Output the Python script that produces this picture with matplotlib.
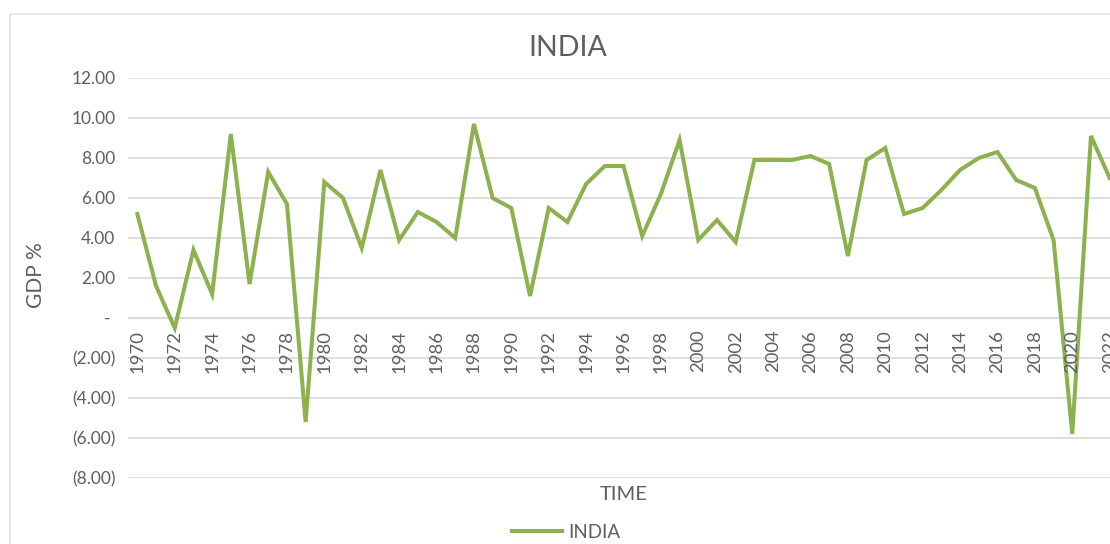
import matplotlib
matplotlib.use("Agg")
import matplotlib.pyplot as plt
from matplotlib.patches import Rectangle
from matplotlib.ticker import FuncFormatter

# Annual GDP growth of India (%)
years = list(range(1970, 2023))
gdp_growth = [
    5.2, 1.6, -0.5, 3.4, 1.2, 9.2, 1.7, 7.3, 5.7, -5.2,
    6.8, 6.0, 3.5, 7.4, 3.9, 5.3, 4.8, 4.0, 9.7, 6.0,
    5.5, 1.1, 5.5, 4.8, 6.7, 7.6, 7.6, 4.1, 6.2, 8.9,
    3.9, 4.9, 3.8, 7.9, 7.9, 7.9, 8.1, 7.7, 3.1, 7.9,
    8.5, 5.2, 5.5, 6.4, 7.4, 8.0, 8.3, 6.9, 6.5, 3.9,
    -5.8, 9.1, 7.0,
]
series_name = "INDIA"
y_ticks = [12, 10, 8, 6, 4, 2, 0, -2, -4, -6, -8]
x_tick_years = list(range(1970, 2023, 2))

TEXT = "#5f5f5f"
GRID = "#d9d9d9"
LINE = "#8db14f"
FONT = ["Lato", "DejaVu Sans"]

plt.rcParams["font.family"] = FONT

fig = plt.figure(figsize=(11.10, 5.44), dpi=100)
W, H = 1110, 544

# outer chart border
fig.patches.append(Rectangle((10 / W, -0.1), 1.2, 1 - 14 / H + 0.1,
                             transform=fig.transFigure, fill=False,
                             edgecolor="#e3e3e3", linewidth=1.2))

# plot area: runs past the right edge of the canvas
left, right, top, bottom = 128, 1119, 78, 478
ax = fig.add_axes([left / W, 1 - bottom / H, (right - left) / W, (bottom - top) / H])

ax.plot(years, gdp_growth, color=LINE, linewidth=2.9, solid_joinstyle="miter",
        label=series_name, zorder=3)

ax.set_xlim(1969.5, 2022.5)
ax.set_ylim(-8, 12)
ax.set_yticks(y_ticks)


def fmt(v, _pos):
    if abs(v) < 1e-9:
        return "- "
    if v < 0:
        return f"({abs(v):.2f})"
    return f"{v:.2f}"


ax.yaxis.set_major_formatter(FuncFormatter(fmt))
ax.grid(axis="y", color=GRID, linewidth=1.2, zorder=0)
ax.tick_params(axis="y", length=0, pad=9, labelsize=12.5, labelcolor=TEXT)

# hide the x axis ticks; year labels sit just under the zero line
ax.set_xticks([])
ax.axhline(0, color=GRID, linewidth=1.2, zorder=1)
for yr in x_tick_years:
    ax.annotate(str(yr), xy=(yr, 0), xycoords="data",
                xytext=(0, -8.5), textcoords="offset points",
                rotation=90, ha="center", va="top", fontsize=13.3,
                color=TEXT, annotation_clip=False)

for s in ax.spines.values():
    s.set_visible(False)

fig.text(568 / W, 1 - 48 / H, "INDIA", ha="center", va="center",
         fontsize=20.5, color=TEXT)
fig.text(36 / W, 1 - 275 / H, "GDP %", ha="center", va="center",
         rotation=90, fontsize=15, color=TEXT)
fig.text(624 / W, 1 - 495 / H, "TIME", ha="center", va="center",
         fontsize=14.5, color=TEXT)

leg = fig.legend(loc="center", bbox_to_anchor=(566 / W, 1 - 532 / H),
                 frameon=False, fontsize=13.5, handlelength=2.7,
                 handletextpad=0.3, labelcolor=TEXT)

fig.savefig("out.png", dpi=100)
